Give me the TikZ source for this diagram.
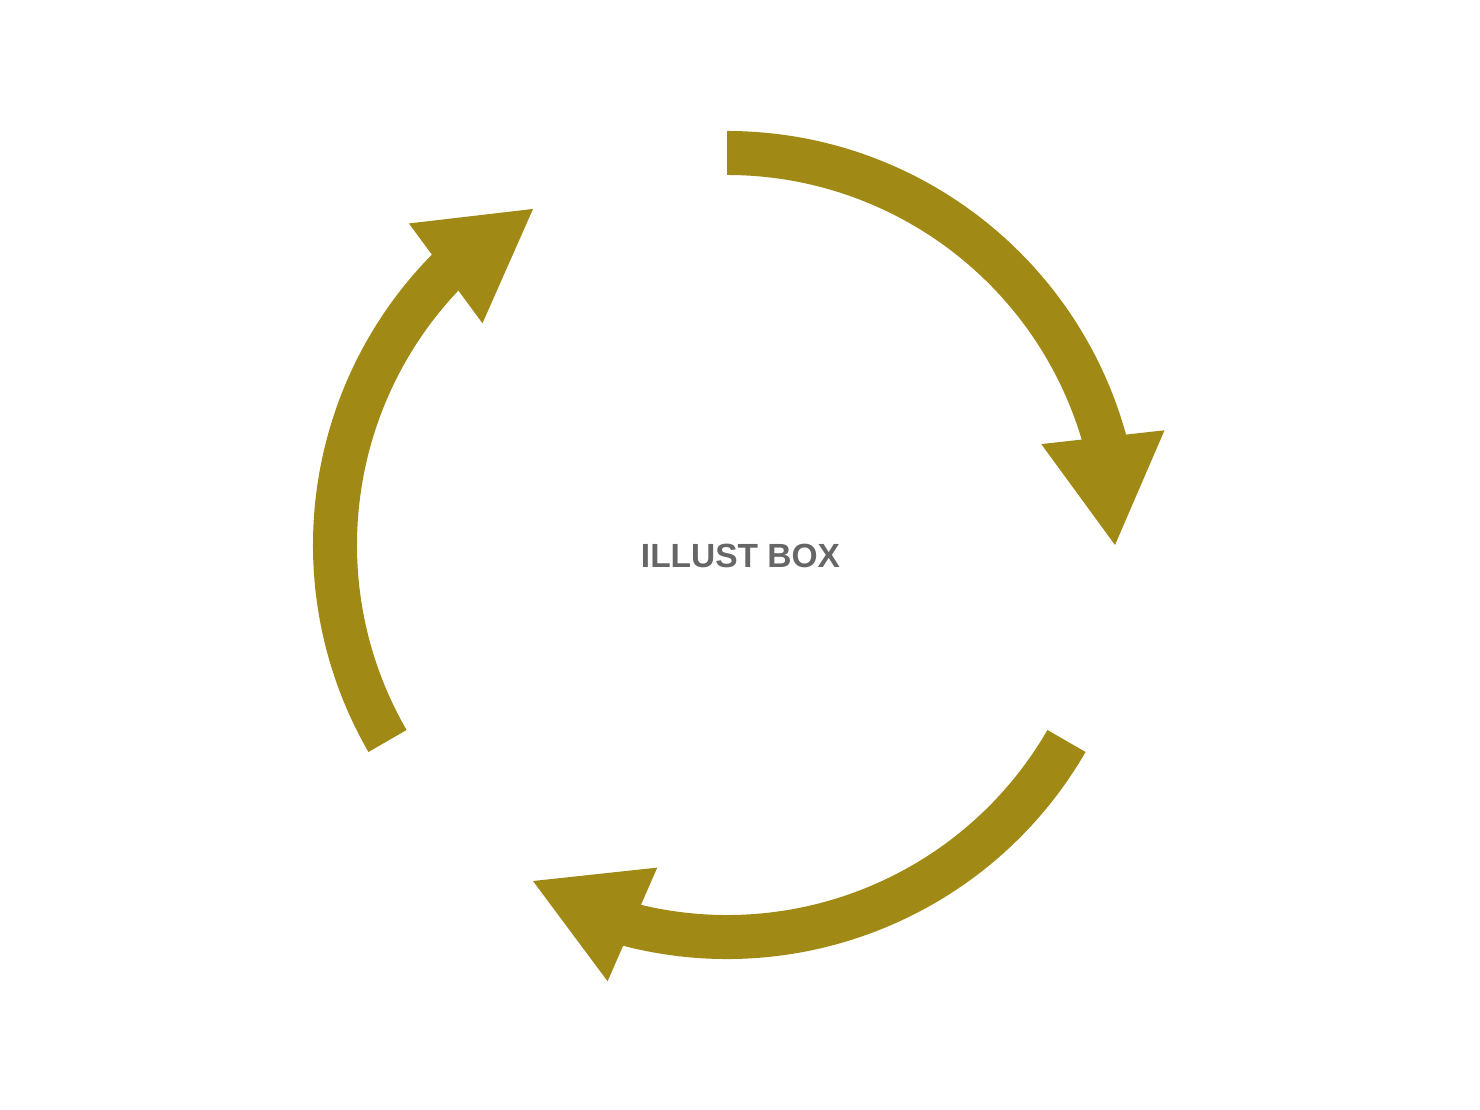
\documentclass[tikz,border=0pt]{standalone}
\usepackage{fontspec}
\setmainfont{Liberation Sans}
\definecolor{arrowolive}{HTML}{A08914}
\definecolor{marktext}{HTML}{666666}
\usetikzlibrary{calc}
\tikzset{
  cyclearrow/.style={fill=arrowolive, draw=none},
}
\newcommand{\cyclearrowshape}{%
  \fill[cyclearrow] (90:414) arc[start angle=90, end angle=14, radius=414]
     -- (14:370) arc[start angle=14, end angle=90, radius=370] -- cycle;
  \fill[cyclearrow] (437.5,114.7) -- (388,0) -- (314.3,100.9) -- cycle;
}
\begin{document}
\begin{tikzpicture}[x=1pt,y=1pt]
\useasboundingbox (0,0) rectangle (1480,1110);
\fill[white] (0,0) rectangle (1480,1110);
\coordinate (c) at (727,565);
\begin{scope}[shift={(c)}]
  \cyclearrowshape
\end{scope}
\begin{scope}[shift={(c)}, rotate=-120]
  \cyclearrowshape
\end{scope}
\begin{scope}[shift={(c)}, rotate=120]
  \cyclearrowshape
\end{scope}
\node[anchor=base, inner sep=0, text=marktext, font=\fontsize{33.5}{40}\selectfont\bfseries] (label) at (740.5,542) {ILLUST BOX};
\end{tikzpicture}
\end{document}
